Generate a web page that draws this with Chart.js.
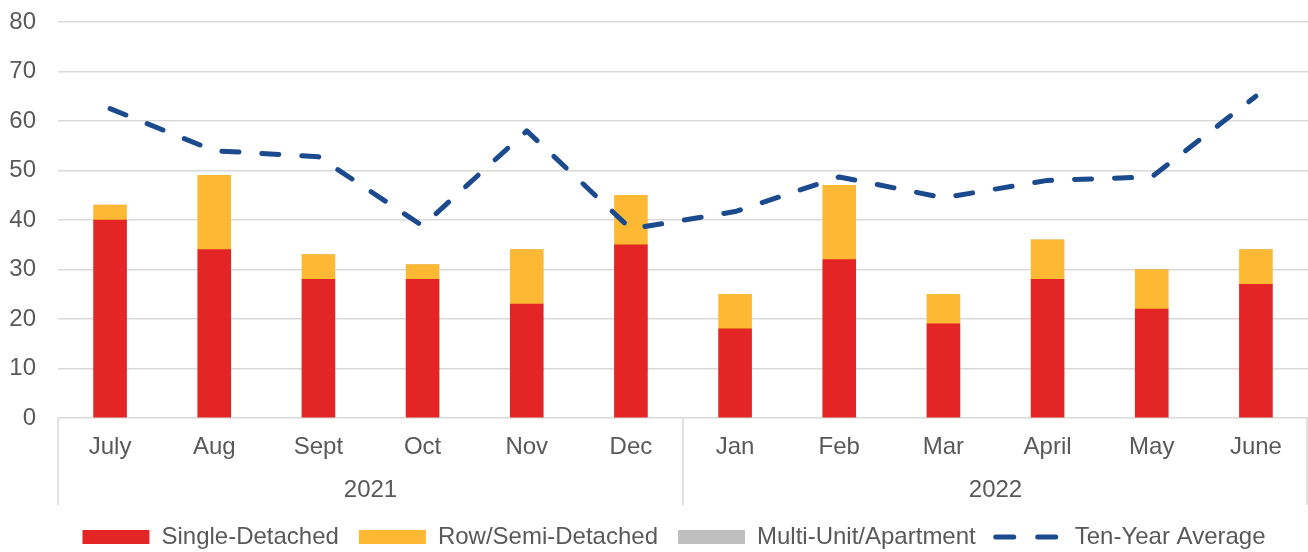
<!DOCTYPE html>
<html>
<head>
<meta charset="utf-8">
<script src="https://cdn.jsdelivr.net/npm/chart.js@4.4.0/dist/chart.umd.min.js"></script>
<style>
  html, body { margin: 0; padding: 0; background: #fff; }
  #wrap { width: 1308px; height: 552px; }
</style>
</head>
<body>
<div id="wrap"><canvas id="starts"></canvas></div>
<script>
const months = ['July', 'Aug', 'Sept', 'Oct', 'Nov', 'Dec', 'Jan', 'Feb', 'Mar', 'April', 'May', 'June'];
const years = ['2021', '2022'];
const singleDetached = [40, 34, 28, 28, 23, 35, 18, 32, 19, 28, 22, 27];
const rowSemi = [3, 15, 5, 3, 11, 10, 7, 15, 6, 8, 8, 7];
const multiUnit = [0, 0, 0, 0, 0, 0, 0, 0, 0, 0, 0, 0];
const tenYearAvg = [62.5, 54, 52.8, 38.8, 58, 38.2, 41.7, 48.7, 44.5, 48, 48.7, 65];
const yTicks = { min: 0, max: 80, step: 10 };

const textColor = '#595959';
const gridColor = '#d9d9d9';
const avgColor = '#1b4a8e';
const avgDash = [17, 23];
Chart.defaults.font.family = '"Liberation Sans", Arial, sans-serif';
Chart.defaults.font.size = 24;
Chart.defaults.color = textColor;

// vertical separators between the year groups under the axis
const yearLines = {
    id: 'yearLines',
    afterDraw(chart) {
        const x = chart.scales.x;
        const x2 = chart.scales.x2;
        const c = chart.ctx;
        c.save();
        c.strokeStyle = gridColor;
        c.lineWidth = 1.5;
        [x.left, (x.left + x.right) / 2, x.right - 1].forEach(px => {
            c.beginPath();
            c.moveTo(px, chart.chartArea.bottom);
            c.lineTo(px, x2.bottom);
            c.stroke();
        });
        c.restore();
    }
};

// legend sits centred under the plot, not the whole canvas
const legendShift = {
    id: 'legendShift',
    beforeDraw(chart) {
        chart.legend.left += 20;
        chart.legend.right += 20;
    }
};

const ctx = document.getElementById('starts').getContext('2d');
const chart = new Chart(ctx, {
    data: {
        labels: months,
        datasets: [
            {
                type: 'bar', label: 'Single-Detached', data: singleDetached,
                backgroundColor: '#e32526', borderWidth: 0, stack: 'homes',
                barThickness: 33, pointStyle: 'rect', order: 1
            },
            {
                type: 'bar', label: 'Row/Semi-Detached', data: rowSemi,
                backgroundColor: '#fdb933', borderWidth: 0, stack: 'homes',
                barThickness: 33, pointStyle: 'rect', order: 1
            },
            {
                type: 'bar', label: 'Multi-Unit/Apartment', data: multiUnit,
                backgroundColor: '#bfbfbf', borderWidth: 0, stack: 'homes',
                barThickness: 33, pointStyle: 'rect', order: 1
            },
            {
                type: 'line', label: 'Ten-Year Average', data: tenYearAvg,
                borderColor: avgColor, backgroundColor: avgColor,
                borderWidth: 5, borderDash: avgDash, borderCapStyle: 'round',
                borderJoinStyle: 'round', tension: 0, pointRadius: 0,
                pointStyle: 'line', stack: 'avg', order: 0
            }
        ]
    },
    options: {
        responsive: true,
        maintainAspectRatio: false,
        animation: false,
        layout: { padding: { top: 22, right: 0, bottom: -7, left: 0 } },
        plugins: {
            tooltip: { enabled: false },
            legend: {
                position: 'bottom',
                labels: {
                    usePointStyle: true,
                    pointStyleWidth: 67,
                    boxHeight: 14,
                    padding: 20,
                    color: textColor,
                    sort: (a, b) => a.datasetIndex - b.datasetIndex,
                    generateLabels(chart) {
                        const items = Chart.defaults.plugins.legend.labels.generateLabels(chart);
                        items.forEach(it => {
                            if (it.pointStyle === 'line') {
                                it.lineDash = [18, 24];
                                it.lineWidth = 5;
                                it.lineCap = 'round';
                                it.strokeStyle = avgColor;
                            } else {
                                it.lineWidth = 0;
                            }
                        });
                        return items;
                    }
                }
            }
        },
        scales: {
            x: {
                stacked: true,
                grid: { display: false, drawTicks: false },
                border: { display: false },
                ticks: { padding: 15, color: textColor },
                afterFit: s => { s.height = 50; }
            },
            x2: {
                type: 'category',
                labels: years,
                position: 'bottom',
                offset: true,
                grid: { display: false, drawTicks: false },
                border: { display: false },
                ticks: { padding: 8, color: textColor },
                afterFit: s => { s.height = 37; }
            },
            y: {
                stacked: true,
                min: yTicks.min,
                max: yTicks.max,
                ticks: { stepSize: yTicks.step, padding: 22, color: textColor },
                grid: { color: gridColor, lineWidth: 1.5, drawTicks: false },
                border: { display: false },
                afterFit: s => {
                    s.width = 58;
                    s.paddingTop = 0;
                    s.paddingBottom = 0;
                }
            }
        }
    },
    plugins: [yearLines, legendShift]
});
</script>
</body>
</html>
